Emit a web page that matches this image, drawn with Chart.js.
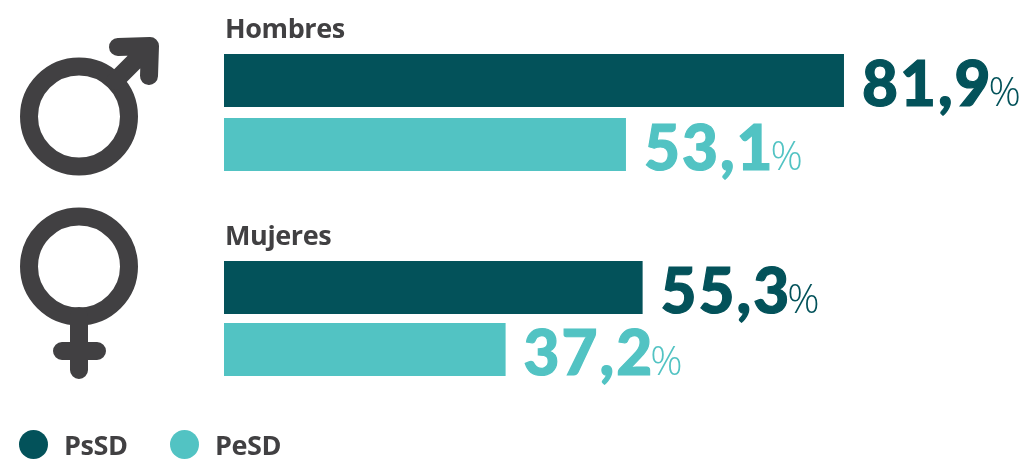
<!DOCTYPE html>
<html lang="es">
<head>
<meta charset="utf-8">
<title>PsSD y PeSD por sexo</title>
<script src="https://cdn.jsdelivr.net/npm/chart.js@4"></script>
<style>
    html, body { margin: 0; padding: 0; background: #fff; }
    body { position: relative; width: 1026px; height: 460px; overflow: hidden; }
    canvas { position: absolute; left: 0; }
    #chartHombres { top: 0; }
    #chartMujeres { top: 225px; }
    #icons { position: absolute; left: 0; top: 0; }
    #legend { position: absolute; top: 0; left: 0; font: 700 27px "Open Sans", sans-serif; letter-spacing: -0.4px; color: #414042; }
    #legend span { position: absolute; line-height: 29px; white-space: nowrap; top: 430px; }
    #legend i { position: absolute; top: 430px; width: 29px; height: 29px; border-radius: 50%; }
</style>
</head>
<body>
<svg id="icons" width="220" height="400" fill="none" stroke="#414042" stroke-width="18" stroke-linecap="round" stroke-linejoin="round">
    <circle cx="79" cy="116.5" r="50"/>
    <path d="M115 81 L150 46 M118 47 L150 46 L149 76" />
    <circle cx="79" cy="266.5" r="50"/>
    <path d="M79 316 V370 M62 351 H97" />
</svg>
<canvas id="chartHombres" width="1026" height="225"></canvas>
<canvas id="chartMujeres" width="1026" height="235"></canvas>
<div id="legend"></div>

<script>
const categories = ['Hombres', 'Mujeres'];
const seriesNames = ['PsSD', 'PeSD'];
const psSD = [81.9, 55.3];
const peSD = [53.1, 37.2];
const colors = ['#03525a', '#52c3c3'];

// category name above the bars, value + small % sign after each bar
const barLabels = {
    id: 'barLabels',
    afterDatasetsDraw(chart) {
        const ctx = chart.ctx;
        ctx.save();
        ctx.textBaseline = 'alphabetic';
        ctx.textAlign = 'left';

        const first = chart.getDatasetMeta(0).data[0];
        ctx.fillStyle = '#414042';
        ctx.font = '700 27px "Open Sans", sans-serif';
        ctx.letterSpacing = '-0.4px';
        ctx.fillText(chart.data.labels[0], first.base + 1, first.y - first.height / 2 - 16.5);

        chart.data.datasets.forEach((ds, i) => {
            const bar = chart.getDatasetMeta(i).data[0];
            const text = ds.data[0].toFixed(1).replace('.', ',');
            const x = bar.x + 18;
            const y = bar.y + bar.height / 2 - 1;
            ctx.fillStyle = ds.backgroundColor;
            ctx.strokeStyle = ds.backgroundColor;
            ctx.lineWidth = 1.2;
            ctx.font = '900 62px Lato, sans-serif';
            ctx.letterSpacing = '2px';
            ctx.fillText(text, x, y);
            ctx.strokeText(text, x, y);
            const w = ctx.measureText(text).width;
            ctx.font = '300 40px "Open Sans", sans-serif';
            ctx.letterSpacing = '0px';
            ctx.fillText('%', x + w - 4, y);
        });
        ctx.restore();
    }
};

function groupChart(id, index, padTop, padBottom, percent) {
    return new Chart(document.getElementById(id), {
        type: 'bar',
        data: {
            labels: [categories[index]],
            datasets: [{
                label: seriesNames[0],
                data: [psSD[index]],
                backgroundColor: colors[0],
                barPercentage: percent,
                categoryPercentage: 1
            }, {
                label: seriesNames[1],
                data: [peSD[index]],
                backgroundColor: colors[1],
                barPercentage: percent,
                categoryPercentage: 1
            }]
        },
        options: {
            indexAxis: 'y',
            responsive: false,
            animation: false,
            layout: {padding: {left: 224, right: 45, top: padTop, bottom: padBottom}},
            plugins: {legend: {display: false}, tooltip: {enabled: false}},
            scales: {
                x: {display: false, min: 0, max: 100},
                y: {display: false}
            }
        },
        plugins: [barLabels]
    });
}

groupChart('chartHombres', 0, 48.5, 48.5, 53 / 64);
groupChart('chartMujeres', 1, 31.5, 79.5, 53 / 62);

// legend row under the charts
const legendX = [[19, 64], [170, 215]];
const legend = document.getElementById('legend');
seriesNames.forEach((name, i) => {
    const dot = document.createElement('i');
    dot.style.left = legendX[i][0] + 'px';
    dot.style.background = colors[i];
    const label = document.createElement('span');
    label.style.left = legendX[i][1] + 'px';
    label.textContent = name;
    legend.append(dot, label);
});
</script>
</body>
</html>
